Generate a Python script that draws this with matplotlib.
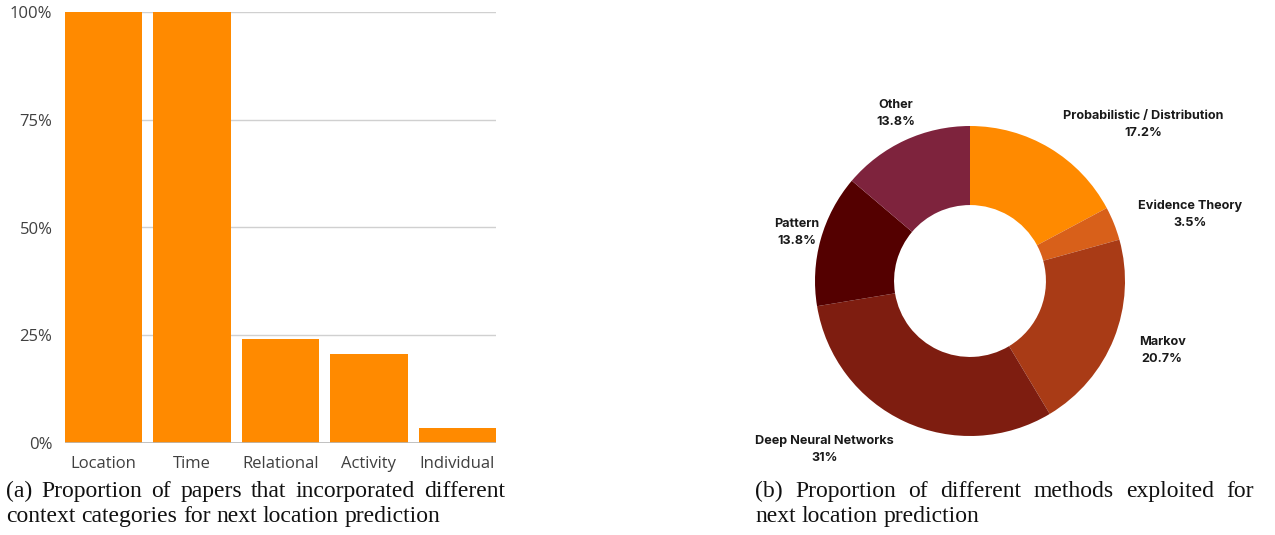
import matplotlib
matplotlib.use("Agg")
import matplotlib.pyplot as plt

# data
categories = ['Location', 'Time', 'Relational', 'Activity', 'Individual']
shares = [100, 100, 24.1, 20.7, 3.4]
yticks = [0, 25, 50, 75, 100]

methods = ['Probabilistic / Distribution', 'Evidence Theory', 'Markov',
           'Deep Neural Networks', 'Pattern', 'Other']
method_pct = [17.2, 3.5, 20.7, 31.0, 13.8, 13.8]
method_lbl = ['17.2%', '3.5%', '20.7%', '31%', '13.8%', '13.8%']
method_colors = ['#ff8a00', '#d8601a', '#a93b16', '#7e1d10', '#540000', '#7e233d']
# label spots in donut units (radius = 1)
label_xy = [(1.12, 1.01), (1.42, 0.43), (1.24, -0.45),
            (-0.94, -1.09), (-1.12, 0.31), (-0.48, 1.08)]

W, H = 1275, 535
fig = plt.figure(figsize=(W / 100, H / 100), dpi=100)

#
# bar chart
#
ax = fig.add_axes([65 / W, 1 - 443 / H, (496 - 65) / W, (443 - 12) / H])
x = range(len(categories))
ax.bar(x, shares, width=0.875, color='#ff8a00', zorder=3)
ax.set_xlim(-0.4375, len(categories) - 0.5625)
ax.set_ylim(0, 100)
ax.set_yticks(yticks)
ax.set_yticklabels([f'{v}%' for v in yticks])
ax.set_xticks(list(x))
ax.set_xticklabels(categories)
ax.grid(axis='y', color='#d0d0d0', linewidth=1, zorder=0)
for s in ax.spines.values():
    s.set_visible(False)
ax.axhline(0, color='#b8b8b8', linewidth=1.2, zorder=4)
ax.tick_params(axis='both', length=0, labelsize=12, labelcolor='#404040')
ax.tick_params(axis='y', pad=9)
ax.tick_params(axis='x', pad=9)
for lab in ax.get_xticklabels() + ax.get_yticklabels():
    lab.set_family('Open Sans')

#
# donut
#
cx, cy, R = 970, 281, 155
px0, px1, py0, py1 = 700, 1275, 0, 500
pax = fig.add_axes([px0 / W, 1 - py1 / H, (px1 - px0) / W, (py1 - py0) / H])
pax.pie(method_pct, colors=method_colors, startangle=90, counterclock=False,
        radius=1, wedgeprops=dict(width=0.51, edgecolor='none'))
pax.set_aspect('auto')
pax.set_xlim((px0 - cx) / R, (px1 - cx) / R)
pax.set_ylim((cy - py1) / R, (cy - py0) / R)
pax.axis('off')
for name, pct, (lx, ly) in zip(methods, method_lbl, label_xy):
    pax.text(lx, ly, name + '\n' + pct, ha='center', va='center',
             family='Inter', weight='bold', fontsize=9.1, color='#1a1a1a',
             linespacing=1.55)

#
# captions (justified first line)
#
renderer = fig.canvas.get_renderer()
CAP_SIZE = 17


def put_line(text, x0, x1, ybase, justify):
    words = text.split()
    objs = []
    for w in words:
        t = fig.text(0, 1 - ybase / H, w, family='Liberation Serif', fontsize=CAP_SIZE,
                     va='baseline', ha='left', color='#111111')
        objs.append(t)
    widths = [o.get_window_extent(renderer).width for o in objs]
    space = fig.text(0, 0, 'a a', family='Liberation Serif', fontsize=CAP_SIZE)
    sp = space.get_window_extent(renderer).width
    space.set_text('aa')
    sp -= space.get_window_extent(renderer).width
    space.remove()
    if justify and len(words) > 1:
        gap = (x1 - x0 - sum(widths)) / (len(words) - 1)
    else:
        gap = sp
    pos = x0
    for o, w in zip(objs, widths):
        o.set_x(pos / W)
        pos += w + gap


put_line('(a) Proportion of papers that incorporated different', 6, 505, 497, True)
put_line('context categories for next location prediction', 6, 505, 522, False)
put_line('(b) Proportion of different methods exploited for', 755, 1254, 497, True)
put_line('next location prediction', 755, 1254, 522, False)

fig.savefig('out.png', dpi=100)
